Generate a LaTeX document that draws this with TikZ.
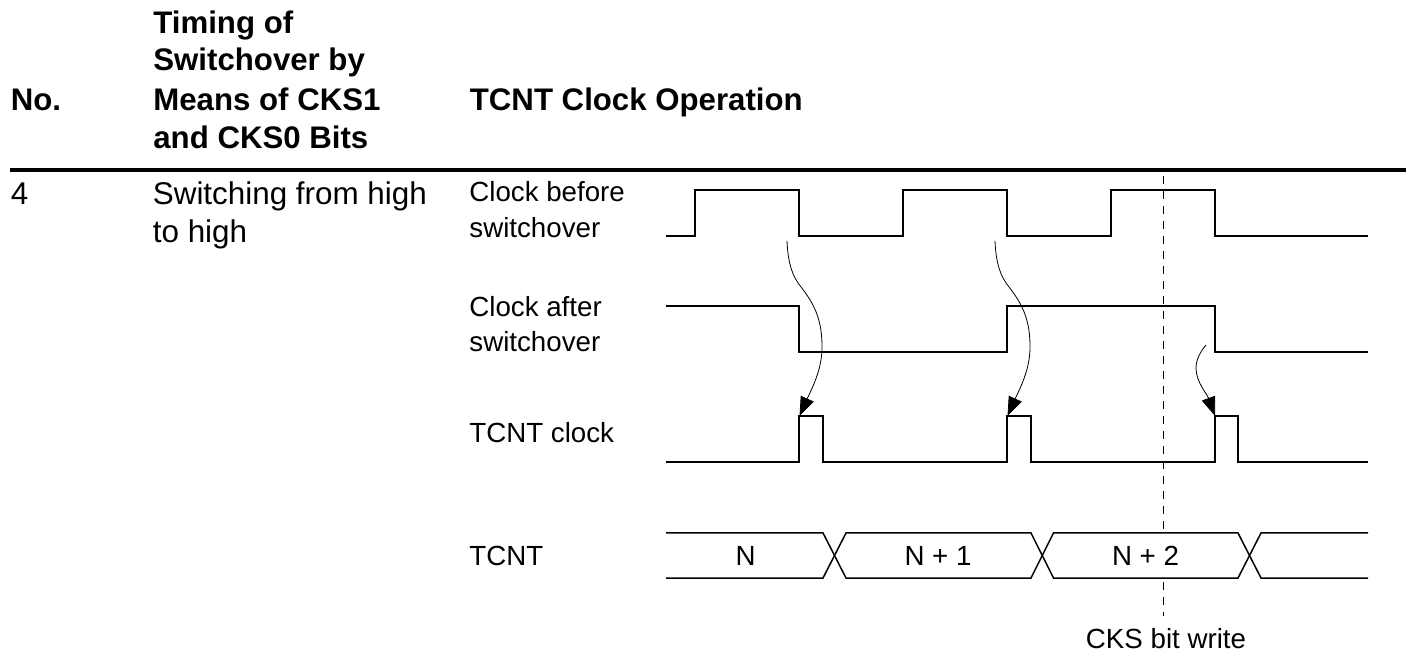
\documentclass[tikz,border=0pt]{standalone}
\usepackage{fontspec}
\setmainfont{Liberation Sans}
\usetikzlibrary{arrows.meta}
\tikzset{
  x=0.5pt,y=-0.5pt,
  head/.style={anchor=base west,inner sep=0pt,font=\fontsize{15.6}{18}\selectfont\bfseries},
  body/.style={anchor=base west,inner sep=0pt,font=\fontsize{15.7}{18}\selectfont},
  lab/.style={anchor=base west,inner sep=0pt,font=\fontsize{13.85}{16}\selectfont},
  midlab/.style={anchor=base,inner sep=0pt,font=\fontsize{13.85}{16}\selectfont},
  rule/.style={line width=1.6pt},
  signal/.style={line width=0.75pt,line join=miter},
  cause/.style={line width=0.4pt,-{Triangle[length=9.5pt,width=7pt]}},
  marker/.style={line width=0.4pt,dash pattern=on 4pt off 3.5pt},
}
\begin{document}
\begin{tikzpicture}
\useasboundingbox (0,0) rectangle (1406,656);
\node[head] (hno) at (10.5,111) {No.};
\node[head] (h1) at (153,33.3) {Timing of};
\node[head] (h2) at (153,70.5) {Switchover by};
\node[head] (h3) at (153,111) {Means of CKS1};
\node[head] (h4) at (153,149) {and CKS0 Bits};
\node[head] (h5) at (469.5,111) {TCNT Clock Operation};
\draw[rule] (9.5,170) -- (1406,170);
\node[body] (no4) at (10.5,205) {4};
\node[body] (t1) at (152.5,205) {Switching from high};
\node[body] (t2) at (152.5,242.3) {to high};
\node[lab] (l1) at (469,202) {Clock before};
\node[lab] (l1b) at (469,237.7) {switchover};
\node[lab] (l2) at (469,317) {Clock after};
\node[lab] (l2b) at (469,352) {switchover};
\node[lab] (l3) at (469,443) {TCNT clock};
\node[lab] (l4) at (469,566) {TCNT};
% signals
\draw[signal] (666,236) -| (695,190) -| (799,236) -| (903,190) -| (1007,236) -| (1111,190) -| (1215,236) -- (1368,236);
\draw[signal] (666,306) -| (799,352) -| (1007,306) -| (1215,352) -- (1368,352);
\draw[signal] (666,462) -| (799,416) -| (823,462) -| (1007,416) -| (1031,462) -| (1215,416) -| (1238,462) -- (1368,462);
% bus
\draw[signal] (666,533) -- (823,533) -- (846,578) -- (1031,578) -- (1053.5,533) -- (1238,533) -- (1261,578) -- (1368,578);
\draw[signal] (666,578) -- (823,578) -- (846,533) -- (1031,533) -- (1053.5,578) -- (1238,578) -- (1261,533) -- (1368,533);
\node[midlab] (n0) at (745.5,566) {N};
\node[midlab] (n1) at (938,566) {N + 1};
\node[midlab] (n2) at (1145.5,566) {N + 2};
% marker
\coordinate (m0) at (1163,176);
\coordinate (m1) at (1163,533);
\coordinate (m2) at (1163,582);
\coordinate (m3) at (1163,616);
\draw[marker] (m0) -- (m1);
\draw[marker] (m2) -- (m3);
\node[midlab] (ck) at (1166,648) {CKS bit write};
% causal arrows
\coordinate (a1s) at (787,241);
\coordinate (a1e) at (799.5,416);
\coordinate (a2s) at (995,241);
\coordinate (a2e) at (1007.5,416);
\coordinate (a3s) at (1206,345);
\coordinate (a3e) at (1215,416);
\draw[cause] (a1s) .. controls (788,265) and (793,277) .. (801,287) .. controls (816,306) and (822,322) .. (822,347) .. controls (822,370) and (812,388) .. (a1e);
\draw[cause] (a2s) .. controls (996,265) and (1001,277) .. (1009,287) .. controls (1024,306) and (1030,322) .. (1030,347) .. controls (1030,370) and (1020,388) .. (a2e);
\draw[cause] (a3s) .. controls (1200,352) and (1196,360) .. (1196,368) .. controls (1196,382) and (1207,394) .. (a3e);
\end{tikzpicture}
\end{document}
